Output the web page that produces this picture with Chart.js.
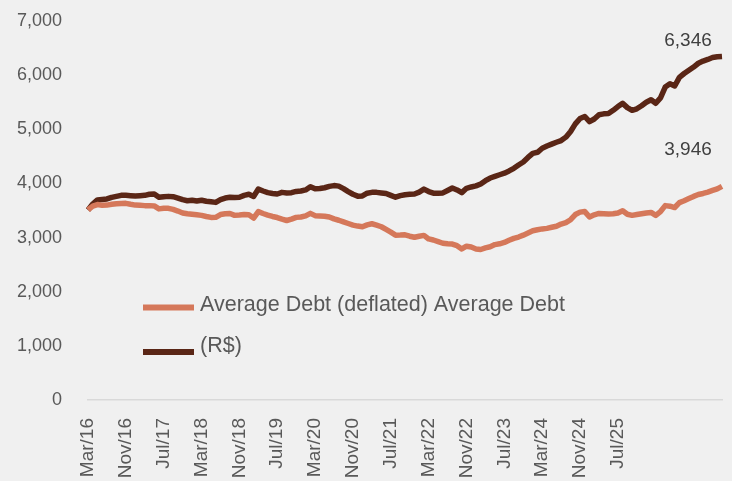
<!DOCTYPE html>
<html>
<head>
<meta charset="utf-8">
<script src="https://cdn.jsdelivr.net/npm/chart.js@4.4.1/dist/chart.umd.min.js"></script>
<style>
  body { margin: 0; background: #f0f0f0; }
  #wrap { width: 732px; height: 481px; }
</style>
</head>
<body>
<div id="wrap"><canvas id="debtChart"></canvas></div>
<script>
// monthly series, Mar/16 onwards
const debtNominal = [
  3510, 3620, 3695, 3705, 3713, 3743, 3761, 3780, 3780, 3774,
  3768, 3774, 3780, 3800, 3805, 3743, 3755, 3761, 3755, 3730,
  3700, 3680, 3690, 3675, 3690, 3670, 3660, 3650, 3700, 3730,
  3745, 3740, 3745, 3780, 3800, 3760, 3895, 3860, 3830, 3815,
  3805, 3835, 3825, 3830, 3853, 3860, 3880, 3940, 3900, 3905,
  3920, 3945, 3960, 3950, 3905, 3850, 3800, 3765, 3770, 3820,
  3835, 3835, 3825, 3815, 3780, 3745, 3774, 3792, 3800, 3805,
  3840, 3895, 3850, 3820, 3820, 3825, 3870, 3916, 3880, 3830,
  3910, 3935, 3955, 3990, 4050, 4100, 4130, 4160, 4190, 4230,
  4280, 4340, 4395, 4480, 4555, 4575, 4650, 4690, 4725, 4760,
  4792, 4855, 4960, 5100, 5200, 5236, 5140, 5190, 5270, 5285,
  5290, 5350, 5420, 5478, 5400, 5350, 5378, 5435, 5500, 5545,
  5480, 5580, 5780, 5840, 5800, 5960, 6030, 6090, 6150, 6220,
  6260, 6290, 6325, 6340, 6346
];
const debtDeflated = [
  3510, 3580, 3610, 3595, 3600, 3615, 3625, 3630, 3632, 3615,
  3600, 3595, 3590, 3590, 3585, 3530, 3540, 3540, 3520, 3490,
  3455, 3440, 3430, 3420, 3410, 3390, 3373, 3375, 3425, 3440,
  3445, 3410, 3415, 3425, 3420, 3360, 3480, 3445, 3415, 3390,
  3370, 3340, 3315, 3340, 3373, 3380, 3400, 3447, 3405, 3400,
  3395, 3380, 3345, 3320, 3290, 3260, 3230, 3212, 3200, 3235,
  3255, 3230, 3200, 3150, 3100, 3045, 3046, 3050, 3025, 3005,
  3025, 3040, 2975, 2955, 2925, 2895, 2885, 2880, 2850, 2790,
  2840, 2825, 2790, 2780, 2810, 2830, 2870, 2885, 2910, 2950,
  2985, 3010, 3045, 3085, 3125, 3145, 3160, 3170, 3190, 3210,
  3250, 3275, 3330, 3425, 3470, 3480, 3380, 3420, 3445, 3440,
  3435, 3440, 3455, 3495, 3430, 3410, 3425, 3440, 3455, 3465,
  3410, 3480, 3590, 3580, 3555, 3645, 3680, 3720, 3760, 3795,
  3815, 3840, 3870, 3900, 3946
];
const tickLabels = ['Mar/16', 'Nov/16', 'Jul/17', 'Mar/18', 'Nov/18', 'Jul/19', 'Mar/20',
  'Nov/20', 'Jul/21', 'Mar/22', 'Nov/22', 'Jul/23', 'Mar/24', 'Nov/24', 'Jul/25'];
const legendLines = ['Average Debt (deflated) Average Debt', '(R$)'];

const monthNames = ['Jan', 'Feb', 'Mar', 'Apr', 'May', 'Jun', 'Jul', 'Aug', 'Sep', 'Oct', 'Nov', 'Dec'];
const months = debtNominal.map((_, k) => {
  const m = 2 + k;
  return monthNames[m % 12] + '/' + (16 + Math.floor(m / 12));
});

const SALMON = '#d5785a';
const BROWN = '#5a2616';
const FONT = "'Liberation Sans', Arial, sans-serif";

// legend sits inside the plot, plus value tags at the end of each line
const overlay = {
  id: 'overlay',
  afterDatasetsDraw(chart) {
    const ctx = chart.ctx;
    ctx.save();
    ctx.lineWidth = 6;
    ctx.strokeStyle = SALMON;
    ctx.beginPath(); ctx.moveTo(143, 307.5); ctx.lineTo(194, 307.5); ctx.stroke();
    ctx.strokeStyle = BROWN;
    ctx.beginPath(); ctx.moveTo(143, 352); ctx.lineTo(194, 352); ctx.stroke();
    ctx.fillStyle = '#595959';
    ctx.font = '21.5px ' + FONT;
    ctx.textBaseline = 'middle';
    ctx.textAlign = 'left';
    ctx.fillText(legendLines[0], 200, 305);
    ctx.fillText(legendLines[1], 200, 346);

    ctx.fillStyle = '#404040';
    ctx.font = '19px ' + FONT;
    ctx.textAlign = 'center';
    const offsets = [-37, -16];
    chart.data.datasets.forEach((ds, i) => {
      const pts = chart.getDatasetMeta(i).data;
      const last = pts[pts.length - 1];
      const v = ds.data[ds.data.length - 1];
      ctx.fillText(v.toLocaleString('en-US'), last.x - 34, last.y + offsets[i]);
    });
    ctx.restore();
  }
};

// keep the scales from reserving extra room around the plot
const noPad = (scale) => {
  scale.paddingTop = 0;
  scale.paddingBottom = 0;
  scale.paddingLeft = 0;
  scale.paddingRight = 0;
};

new Chart(document.getElementById('debtChart'), {
  type: 'line',
  plugins: [overlay],
  data: {
    labels: months,
    datasets: [
      { label: 'Average Debt (deflated)', data: debtDeflated, borderColor: SALMON },
      { label: 'Average Debt (R$)', data: debtNominal, borderColor: BROWN }
    ]
  },
  options: {
    responsive: true,
    maintainAspectRatio: false,
    animation: false,
    layout: { padding: { top: 21, right: 10, left: 0, bottom: 0 } },
    elements: {
      point: { radius: 0 },
      line: { borderWidth: 5.5, tension: 0, borderJoinStyle: 'round', borderCapStyle: 'butt' }
    },
    plugins: { legend: { display: false }, tooltip: { enabled: false } },
    scales: {
      x: {
        offset: false,
        grid: { display: false, drawTicks: false },
        border: { display: true, color: '#d9d9d9', width: 1.5 },
        ticks: {
          autoSkip: false,
          minRotation: 90,
          maxRotation: 90,
          padding: 18,
          color: '#595959',
          font: { family: FONT, size: 19 },
          callback: (val, i) => (tickLabels.includes(months[i]) && i % 8 === 0 ? months[i] : '')
        },
        afterFit: (scale) => { scale.height = 81; noPad(scale); }
      },
      y: {
        min: 0,
        max: 7000,
        grid: { display: false, drawTicks: false },
        border: { display: false },
        ticks: {
          stepSize: 1000,
          padding: 26,
          color: '#595959',
          font: { family: FONT, size: 18 },
          callback: (v) => v.toLocaleString('en-US')
        },
        afterFit: (scale) => { scale.width = 88; noPad(scale); }
      }
    }
  }
});
</script>
</body>
</html>
